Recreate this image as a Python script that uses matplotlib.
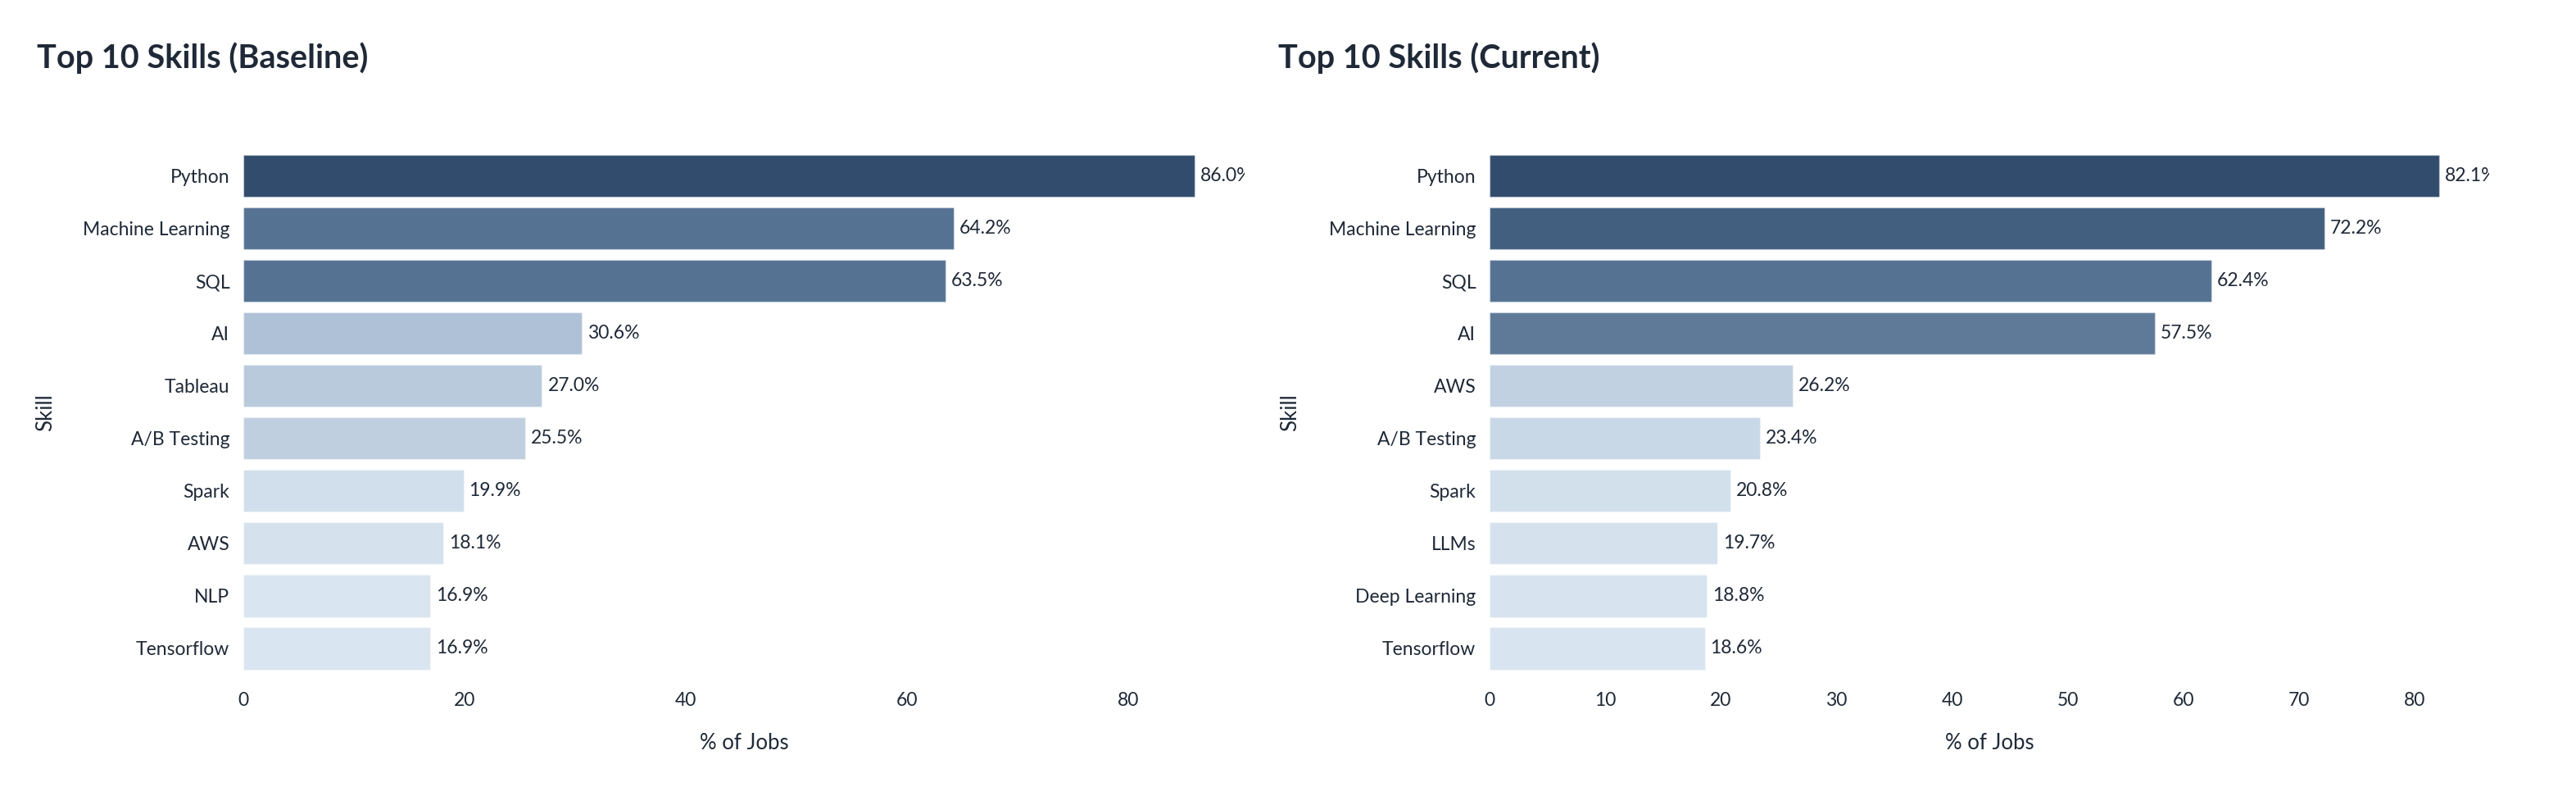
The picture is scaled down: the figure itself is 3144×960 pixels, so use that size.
import matplotlib
matplotlib.use("Agg")
import matplotlib.pyplot as plt
from matplotlib.transforms import offset_copy

plt.rcParams['font.family'] = ['Lato', 'DejaVu Sans']

# data
base_skills = ['Python', 'Machine Learning', 'SQL', 'AI', 'Tableau',
               'A/B Testing', 'Spark', 'AWS', 'NLP', 'Tensorflow']
base_pct = [86.0, 64.2, 63.5, 30.6, 27.0, 25.5, 19.9, 18.1, 16.9, 16.9]

cur_skills = ['Python', 'Machine Learning', 'SQL', 'AI', 'AWS',
              'A/B Testing', 'Spark', 'LLMs', 'Deep Learning', 'Tensorflow']
cur_pct = [82.1, 72.2, 62.4, 57.5, 26.2, 23.4, 20.8, 19.7, 18.8, 18.6]

# bar colours
base_colors = ['#324c6e', '#557293', '#557293', '#afc1d6', '#b9cadc',
               '#bfcfdf', '#d0dfeb', '#d5e2ee', '#d9e5f0', '#d9e5f0']
cur_colors = ['#324c6e', '#425f80', '#557293', '#5f7a99', '#c1d1e1',
              '#c9d8e6', '#d2e0ec', '#d5e2ee', '#d7e4ef', '#d8e4ef']

TXT = '#1f2937'
W, H = 3144, 960

fig = plt.figure(figsize=(W / 100, H / 100), dpi=100)
fig.patch.set_facecolor('white')


def draw(left, right, skills, pct, colors, title, tick_step, ylab_x, title_x):
    top, bottom = 182.5, 823
    ax = fig.add_axes([left / W, 1 - bottom / H, (right - left) / W, (bottom - top) / H])
    ys = list(range(len(skills)))
    bars = ax.barh(ys, pct, height=0.8, color=colors,
                   edgecolor=(1, 1, 1, 0.35), linewidth=1.0)
    ax.set_ylim(len(skills) - 0.5, -0.5)
    ax.set_xlim(0, max(pct) * 1.0526)
    ax.set_yticks(ys)
    ax.set_yticklabels(skills)
    ax.set_xticks(range(0, int(max(pct)) + 1, tick_step))
    ax.tick_params(axis='both', length=0, labelsize=16.5, colors=TXT)
    ax.tick_params(axis='y', pad=12)
    ax.tick_params(axis='x', pad=15)
    for s in ax.spines.values():
        s.set_visible(False)
    shifted = offset_copy(ax.transData, fig=fig, x=5, y=0, units='points')
    for b, v in zip(bars, pct):
        ax.text(b.get_width(), b.get_y() + b.get_height() / 2, '%.1f%%' % v,
                transform=shifted, va='center', ha='left', fontsize=16.5,
                color=TXT, clip_on=True)
    ax.set_xlabel('% of Jobs', fontsize=18.5, color=TXT, va='center')
    ax.xaxis.set_label_coords(0.5, (bottom - 906) / (bottom - top))
    ax.set_ylabel('Skill', fontsize=18.5, color=TXT, va='center')
    ax.yaxis.set_label_coords((ylab_x - left) / (right - left), 0.5)
    fig.text(title_x / W, 1 - 83 / H, title,
             fontsize=28.5, fontweight='bold', color=TXT, va='baseline', ha='left')
    return ax


draw(297, 1519, base_skills, base_pct, base_colors, 'Top 10 Skills (Baseline)', 20, 56, 45)
draw(1818, 3038, cur_skills, cur_pct, cur_colors, 'Top 10 Skills (Current)', 10, 1575, 1560)

fig.savefig('out.png', dpi=100)
